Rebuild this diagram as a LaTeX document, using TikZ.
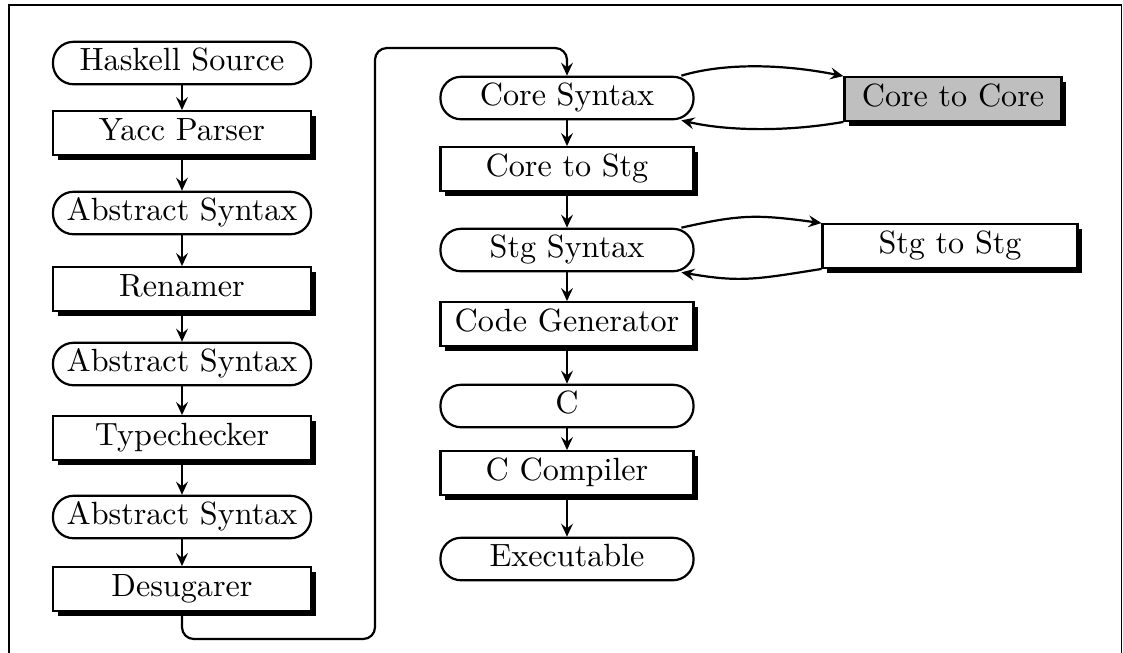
\documentclass[tikz,border=0pt]{standalone}
\usetikzlibrary{arrows.meta,shadows}

\tikzset{
  every node/.style={font=\fontsize{10.9}{13}\selectfont},
  datum/.style={draw, line width=0.75pt, rounded corners=7pt, fill=white,
    minimum height=14.4pt, inner sep=0pt, text height=7.4pt, text depth=2.1pt},
  stage/.style={draw, line width=0.75pt, fill=white,
    minimum height=14.8pt, inner sep=0pt, text height=7.4pt, text depth=2.1pt,
    drop shadow={shadow xshift=1.6pt, shadow yshift=-1.6pt, opacity=1, fill=black}},
  leftcol/.style={minimum width=87.5pt},
  rightcol/.style={minimum width=85.8pt},
  flow/.style={line width=0.75pt, -{Stealth[length=4.4pt, width=4pt, inset=1.6pt]}},
  frameline/.style={line width=0.6pt},
}

\begin{document}
\begin{tikzpicture}[x=0.339pt, y=-0.339pt]
  \useasboundingbox (0,0) rectangle (1123,652);

  % outer frame (its lower edge lies below the page)
  \draw[frameline] (9,660) -- (9,5) -- (1121.5,5) -- (1121.5,660);

  % front end
  \node[datum, leftcol] (hs)  at (182,63)  {Haskell Source};
  \node[stage, leftcol] (yp)  at (182,133) {Yacc Parser};
  \node[datum, leftcol] (as1) at (182,213) {Abstract Syntax};
  \node[stage, leftcol] (rn)  at (182,289) {Renamer};
  \node[datum, leftcol] (as2) at (182,364) {Abstract Syntax};
  \node[stage, leftcol] (tc)  at (182,438) {Typechecker};
  \node[datum, leftcol] (as3) at (182,517) {Abstract Syntax};
  \node[stage, leftcol] (ds)  at (182,589) {Desugarer};

  % back end
  \node[datum, rightcol] (cs)  at (567,98)  {Core Syntax};
  \node[stage, rightcol] (c2s) at (567,169) {Core to Stg};
  \node[datum, rightcol] (ss)  at (567,250) {Stg Syntax};
  \node[stage, rightcol] (cg)  at (567,324) {Code Generator};
  \node[datum, rightcol] (cc)  at (567,406) {C};
  \node[stage, rightcol] (ccomp) at (567,473) {C Compiler};
  \node[datum, rightcol] (ex)  at (567,559) {Executable};

  % optimisation passes
  \node[stage, fill=black!25, minimum width=73.6pt] (c2c) at (953,99) {Core to Core};
  \node[stage, minimum width=86.4pt] (s2s) at (950,246) {Stg to Stg};

  % front-end chain
  \draw[flow] (hs)  -- (yp);
  \draw[flow] (yp)  -- (as1);
  \draw[flow] (as1) -- (rn);
  \draw[flow] (rn)  -- (as2);
  \draw[flow] (as2) -- (tc);
  \draw[flow] (tc)  -- (as3);
  \draw[flow] (as3) -- (ds);

  % hand-over from the desugarer to the back end
  \coordinate (bendlow)  at (375,639);
  \coordinate (bendhigh) at (375,48);
  \draw[flow, rounded corners=4pt] (ds.south) |- (bendlow) -- (bendhigh) -| (cs.north);

  % back-end chain
  \draw[flow] (cs)  -- (c2s);
  \draw[flow] (c2s) -- (ss);
  \draw[flow] (ss)  -- (cg);
  \draw[flow] (cg)  -- (cc);
  \draw[flow] (cc)  -- (ccomp);
  \draw[flow] (ccomp) -- (ex);

  % Core to Core loop
  \draw[flow] ([xshift=-4.5pt]cs.north east) .. controls +(15pt,4.5pt) and +(-20pt,4pt) .. (c2c.north west);
  \draw[flow] (c2c.south west) .. controls +(-20pt,-3.5pt) and +(15pt,-3.5pt) .. ([xshift=-4.5pt]cs.south east);

  % Stg to Stg loop
  \draw[flow] ([xshift=-4.5pt]ss.north east) .. controls +(20pt,4.5pt) and +(-22pt,3pt) .. (s2s.north west);
  \draw[flow] (s2s.south west) .. controls +(-22pt,-3.5pt) and +(20pt,-3.5pt) .. ([xshift=-4.5pt]ss.south east);
\end{tikzpicture}
\end{document}
